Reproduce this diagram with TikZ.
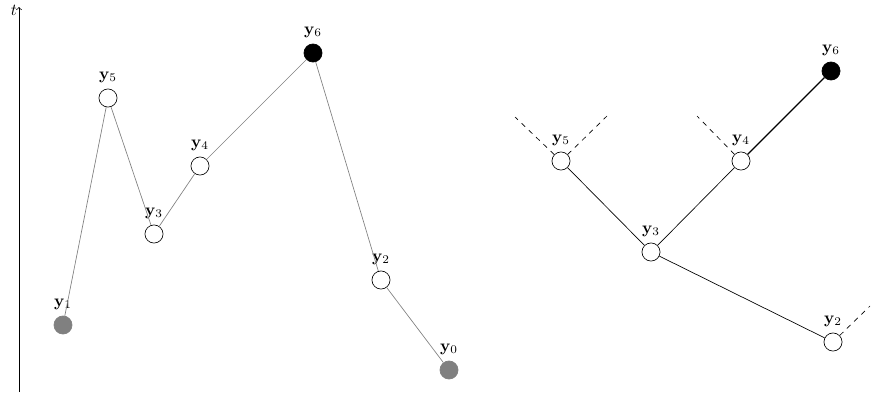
\documentclass[tikz,border=0pt]{standalone}
\begin{document}
\begin{tikzpicture}[x=0.021cm,y=-0.021cm,
  pt/.style={circle,draw,fill=white,minimum size=0.38cm,inner sep=0pt},
  grey/.style={pt,draw=gray,fill=gray},
  top/.style={pt,fill=black},
  walk/.style={gray},
  tree/.style={black}]
 \useasboundingbox (0,0) rectangle (872,396);
 % time axis
 \draw[->] (19,392)--(19,7) node[left,inner sep=1pt,yshift=-2pt] (t) {$t$};
 % left: the walk
 \node[grey,label={above:$\mathbf{y}_1$}] (a1) at (63,325) {};
 \node[pt,label={above:$\mathbf{y}_5$}] (a5) at (108,98) {};
 \node[pt,label={above:$\mathbf{y}_3$}] (a3) at (154,234) {};
 \node[pt,label={above:$\mathbf{y}_4$}] (a4) at (200,166) {};
 \node[top,label={above:$\mathbf{y}_6$}] (a6) at (313,53) {};
 \node[pt,label={above:$\mathbf{y}_2$}] (a2) at (381,280) {};
 \node[grey,label={above:$\mathbf{y}_0$}] (a0) at (449,370) {};
 \draw[walk] (a1)--(a5)--(a3)--(a4)--(a6)--(a2)--(a0);
 % right: the tree
 \node[pt,label={above:$\mathbf{y}_5$}] (b5) at (561,161) {};
 \node[pt,label={above:$\mathbf{y}_4$}] (b4) at (741,161) {};
 \node[top,label={above:$\mathbf{y}_6$}] (b6) at (831,71) {};
 \node[pt,label={above:$\mathbf{y}_3$}] (b3) at (651,252) {};
 \node[pt,label={above:$\mathbf{y}_2$}] (b2) at (833,342) {};
 \draw[tree] (b5)--(b3)--(b4);
 \draw[tree] (b3)--(b2);
 \draw[tree,thick] (b4)--(b6);
 \coordinate (d1) at (515,117);
 \coordinate (d2) at (607,116);
 \coordinate (d3) at (697,116);
 \coordinate (d4) at (870,306);
 \draw[dashed] (b5)--(d1);
 \draw[dashed] (b5)--(d2);
 \draw[dashed] (b4)--(d3);
 \draw[dashed] (b2)--(d4);
\end{tikzpicture}
\end{document}
